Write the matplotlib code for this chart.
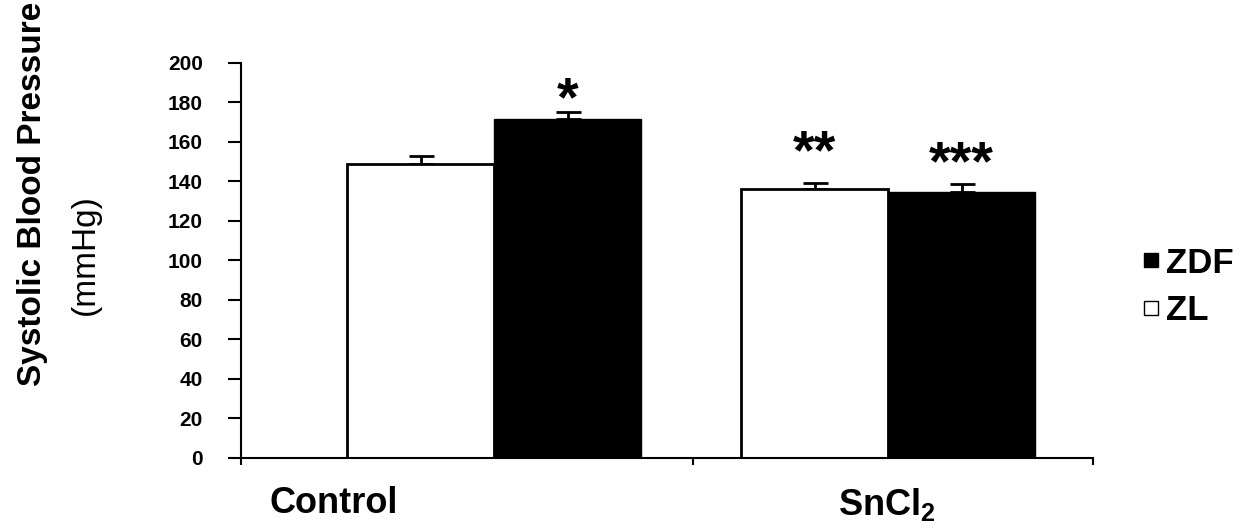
import matplotlib
matplotlib.use('Agg')
from matplotlib import pyplot as plt
from matplotlib.lines import Line2D
import numpy as np

plt.rcParams['font.family'] = ['Liberation Sans', 'DejaVu Sans']
plt.rcParams['mathtext.fontset'] = 'custom'
plt.rcParams['mathtext.rm'] = 'Liberation Sans'
plt.rcParams['mathtext.bf'] = 'Liberation Sans:bold'

groups = ['Control', r'SnCl$_\mathbf{2}$']
series = ['ZL', 'ZDF']
zl_mean = [149.1, 136.2]
zl_sem = [3.8, 3.2]
zdf_mean = [171.6, 134.7]
zdf_sem = [3.7, 3.9]
stars_zl = ['', '**']
stars_zdf = ['*', '***']
yticks = [0, 20, 40, 60, 80, 100, 120, 140, 160, 180, 200]


def main():
	fig = plt.figure(figsize=(12.51, 5.31), dpi=100)
	ax = fig.add_axes([0.1926, 0.1375, 0.6811, 0.7439])

	centers = np.array([0.595, 1.519])
	w = 0.345

	# bars
	ax.bar(centers - w / 2, zl_mean, w, color='white', edgecolor='black',
	       linewidth=2, zorder=2)
	ax.bar(centers + w / 2, zdf_mean, w, color='black', edgecolor='black',
	       linewidth=1, zorder=2)

	# upper error bars only
	ax.errorbar(centers - w / 2, zl_mean, yerr=[[0, 0], zl_sem], fmt='none',
	            ecolor='black', elinewidth=2, capsize=9, capthick=2, zorder=1)
	ax.errorbar(centers + w / 2, zdf_mean, yerr=[[0, 0], zdf_sem], fmt='none',
	            ecolor='black', elinewidth=2, capsize=9, capthick=2, zorder=1)

	# significance marks
	for i in range(2):
		if stars_zl[i]:
			ax.text(centers[i] - w / 2, zl_mean[i] + zl_sem[i] + 1, stars_zl[i],
			        ha='center', va='bottom', fontsize=40, fontweight='bold')
		if stars_zdf[i]:
			off = -8 if i == 0 else -3.5
			ax.text(centers[i] + w / 2, zdf_mean[i] + zdf_sem[i] + off, stars_zdf[i],
			        ha='center', va='bottom', fontsize=40, fontweight='bold')

	ax.set_xlim(0, 2)
	ax.set_ylim(0, 200)

	for s in ['top', 'right']:
		ax.spines[s].set_visible(False)
	ax.spines['left'].set_linewidth(1.5)
	ax.spines['bottom'].set_linewidth(1.5)

	ax.set_yticks(yticks)
	ax.set_yticklabels([str(v) for v in yticks], fontweight='bold')
	ax.yaxis.set_tick_params('major', length=9.5, width=1.5, labelsize=15, pad=18)

	ax.set_xticks([0.218, 1.516])
	ax.set_xticklabels(groups, fontweight='bold')
	ax.xaxis.set_tick_params('major', length=0, labelsize=26, pad=20)
	ax.set_xticks([0, 1.061, 2], minor=True)
	ax.xaxis.set_tick_params('minor', length=5, width=1.5, direction='out')

	# y label in two lines
	fig.text(0.026, 0.635, 'Systolic Blood Pressure', rotation=90, fontsize=24,
	         fontweight='bold', ha='center', va='center')
	fig.text(0.068, 0.52, '(mmHg)', rotation=90, fontsize=24,
	         ha='center', va='center')

	handles = [Line2D([], [], marker='s', linestyle='', markersize=9.5,
	                  markerfacecolor='black', markeredgecolor='black', markeredgewidth=1),
	           Line2D([], [], marker='s', linestyle='', markersize=9.5,
	                  markerfacecolor='white', markeredgecolor='black', markeredgewidth=1)]
	fig.legend(handles, ['ZDF', 'ZL'], loc='center left',
	           bbox_to_anchor=(0.914, 0.4595), frameon=False,
	           prop={'weight': 'bold', 'size': 25},
	           handlelength=0.45, handletextpad=0.2,
	           labelspacing=0.43, borderaxespad=0, borderpad=0)

	fig.savefig('out.png', dpi=100)


if __name__ == '__main__':
	main()
